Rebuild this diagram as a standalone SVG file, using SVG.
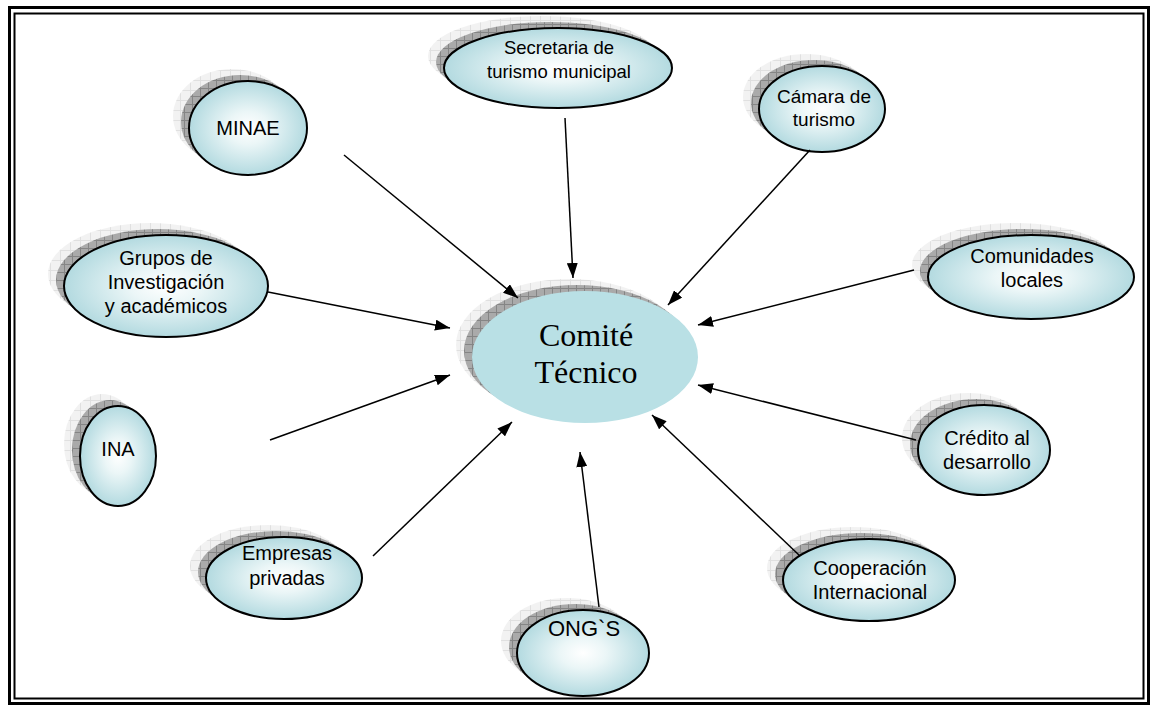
<svg xmlns="http://www.w3.org/2000/svg" width="1152" height="707" viewBox="0 0 1152 707">
<defs>
<style>
.sl{fill:url(#pl);stroke:none}
.sd{fill:url(#pd);stroke:none}
.nd{fill:url(#rg);stroke:#000;stroke-width:2}
.t{font-family:"Liberation Sans",Arial,sans-serif;font-size:20px;fill:#000;text-anchor:middle}
.ts{font-family:"Liberation Serif","Times New Roman",serif;font-size:32px;fill:#000;text-anchor:middle}
.c line{stroke:#000;stroke-width:1.5;marker-end:url(#ah)}
</style>
<radialGradient id="rg" cx="50%" cy="50%" r="50%">
<stop offset="0" stop-color="#ffffff"/>
<stop offset="0.35" stop-color="#ebf6f7"/>
<stop offset="1" stop-color="#b3dae0"/>
</radialGradient>
<pattern id="pl" width="10" height="10" patternUnits="userSpaceOnUse">
<rect width="10" height="10" fill="#f2f2f2"/>
<path d="M0 0.5H10M0.5 0V10" stroke="#e0e0e0" stroke-width="1"/>
</pattern>
<pattern id="pd" width="8" height="8" patternUnits="userSpaceOnUse">
<rect width="8" height="8" fill="#aaaaaa"/>
<path d="M0 0.5H8M0.5 0V8" stroke="#858585" stroke-width="1"/>
</pattern>
<marker id="ah" markerUnits="userSpaceOnUse" markerWidth="15" markerHeight="11" refX="15" refY="5.5" orient="auto">
<path d="M0,0 L15,5.5 L0,11 z" fill="#000"/>
</marker>
</defs>
<rect width="1152" height="707" fill="#fff"/>
<g id="frame" fill="none" stroke="#000">
<rect x="9.5" y="7.5" width="1139" height="696" stroke-width="3"/>
<rect x="14.5" y="13.5" width="1129" height="685" stroke-width="2"/>
</g>
<g id="minae">
<ellipse class="sl" cx="232" cy="116" rx="59" ry="47"/>
<ellipse class="sd" cx="240" cy="122" rx="59" ry="47"/>
<ellipse class="nd" cx="248" cy="128" rx="59" ry="47"/>
<text class="t" x="248" y="135">MINAE</text>
</g>
<g id="secretaria">
<ellipse class="sl" cx="542" cy="56" rx="114" ry="40"/>
<ellipse class="sd" cx="550" cy="62" rx="114" ry="40"/>
<ellipse class="nd" cx="558" cy="68" rx="114" ry="40"/>
<text class="t" x="559" y="54" style="font-size:18.5px">Secretaria de</text>
<text class="t" x="559" y="78" style="font-size:18.5px">turismo municipal</text>
</g>
<g id="camara">
<ellipse class="sl" cx="806" cy="97" rx="63" ry="43"/>
<ellipse class="sd" cx="814" cy="103" rx="63" ry="43"/>
<ellipse class="nd" cx="822" cy="109" rx="63" ry="43"/>
<text class="t" x="824" y="103" style="font-size:19px">Cámara de</text>
<text class="t" x="824" y="126" style="font-size:19px">turismo</text>
</g>
<g id="grupos">
<ellipse class="sl" cx="150" cy="274" rx="102" ry="51"/>
<ellipse class="sd" cx="158" cy="280" rx="102" ry="51"/>
<ellipse class="nd" cx="166" cy="286" rx="102" ry="51"/>
<text class="t" x="166" y="265">Grupos de</text>
<text class="t" x="166" y="289">Investigación</text>
<text class="t" x="166" y="313">y académicos</text>
</g>
<g id="comunidades">
<ellipse class="sl" cx="1015" cy="265" rx="103" ry="42"/>
<ellipse class="sd" cx="1023" cy="271" rx="103" ry="42"/>
<ellipse class="nd" cx="1031" cy="277" rx="103" ry="42"/>
<text class="t" x="1032" y="263">Comunidades</text>
<text class="t" x="1032" y="287">locales</text>
</g>
<g id="comite">
<ellipse class="sl" cx="569" cy="345" rx="113" ry="66"/>
<ellipse class="sd" cx="577" cy="351" rx="113" ry="66"/>
<ellipse cx="585" cy="357" rx="113" ry="66" fill="#b9e0e5"/>
<text class="ts" x="586" y="346">Comité</text>
<text class="ts" x="586" y="383">Técnico</text>
</g>
<g id="ina">
<ellipse class="sl" cx="102" cy="444" rx="38" ry="50"/>
<ellipse class="sd" cx="110" cy="450" rx="38" ry="50"/>
<ellipse class="nd" cx="118" cy="456" rx="38" ry="50"/>
<text class="t" x="118" y="456">INA</text>
</g>
<g id="credito">
<ellipse class="sl" cx="968" cy="438" rx="66" ry="45"/>
<ellipse class="sd" cx="976" cy="444" rx="66" ry="45"/>
<ellipse class="nd" cx="984" cy="450" rx="66" ry="45"/>
<text class="t" x="987" y="445">Crédito al</text>
<text class="t" x="987" y="469">desarrollo</text>
</g>
<g id="empresas">
<ellipse class="sl" cx="268" cy="566" rx="78" ry="41"/>
<ellipse class="sd" cx="276" cy="572" rx="78" ry="41"/>
<ellipse class="nd" cx="284" cy="578" rx="78" ry="41"/>
<text class="t" x="287" y="560">Empresas</text>
<text class="t" x="287" y="585">privadas</text>
</g>
<g id="ongs">
<ellipse class="sl" cx="567" cy="641" rx="66" ry="43"/>
<ellipse class="sd" cx="575" cy="647" rx="66" ry="43"/>
<ellipse class="nd" cx="583" cy="653" rx="66" ry="43"/>
<text class="t" x="584" y="636" style="font-size:22px">ONG`S</text>
</g>
<g id="cooperacion">
<ellipse class="sl" cx="853" cy="568" rx="86" ry="41"/>
<ellipse class="sd" cx="861" cy="574" rx="86" ry="41"/>
<ellipse class="nd" cx="869" cy="580" rx="86" ry="41"/>
<text class="t" x="870" y="575">Cooperación</text>
<text class="t" x="870" y="599">Internacional</text>
</g>
<g id="connectors" class="c">
<line x1="344" y1="155" x2="518" y2="298"/>
<line x1="565" y1="118" x2="573" y2="278"/>
<line x1="810" y1="150" x2="668" y2="305"/>
<line x1="268" y1="292" x2="450" y2="328"/>
<line x1="270" y1="440" x2="450" y2="375"/>
<line x1="373" y1="556" x2="512" y2="422"/>
<line x1="599" y1="607" x2="580" y2="452"/>
<line x1="800" y1="556" x2="652" y2="415"/>
<line x1="916" y1="440" x2="698" y2="385"/>
<line x1="914" y1="270" x2="698" y2="325"/>
</g>
</svg>
